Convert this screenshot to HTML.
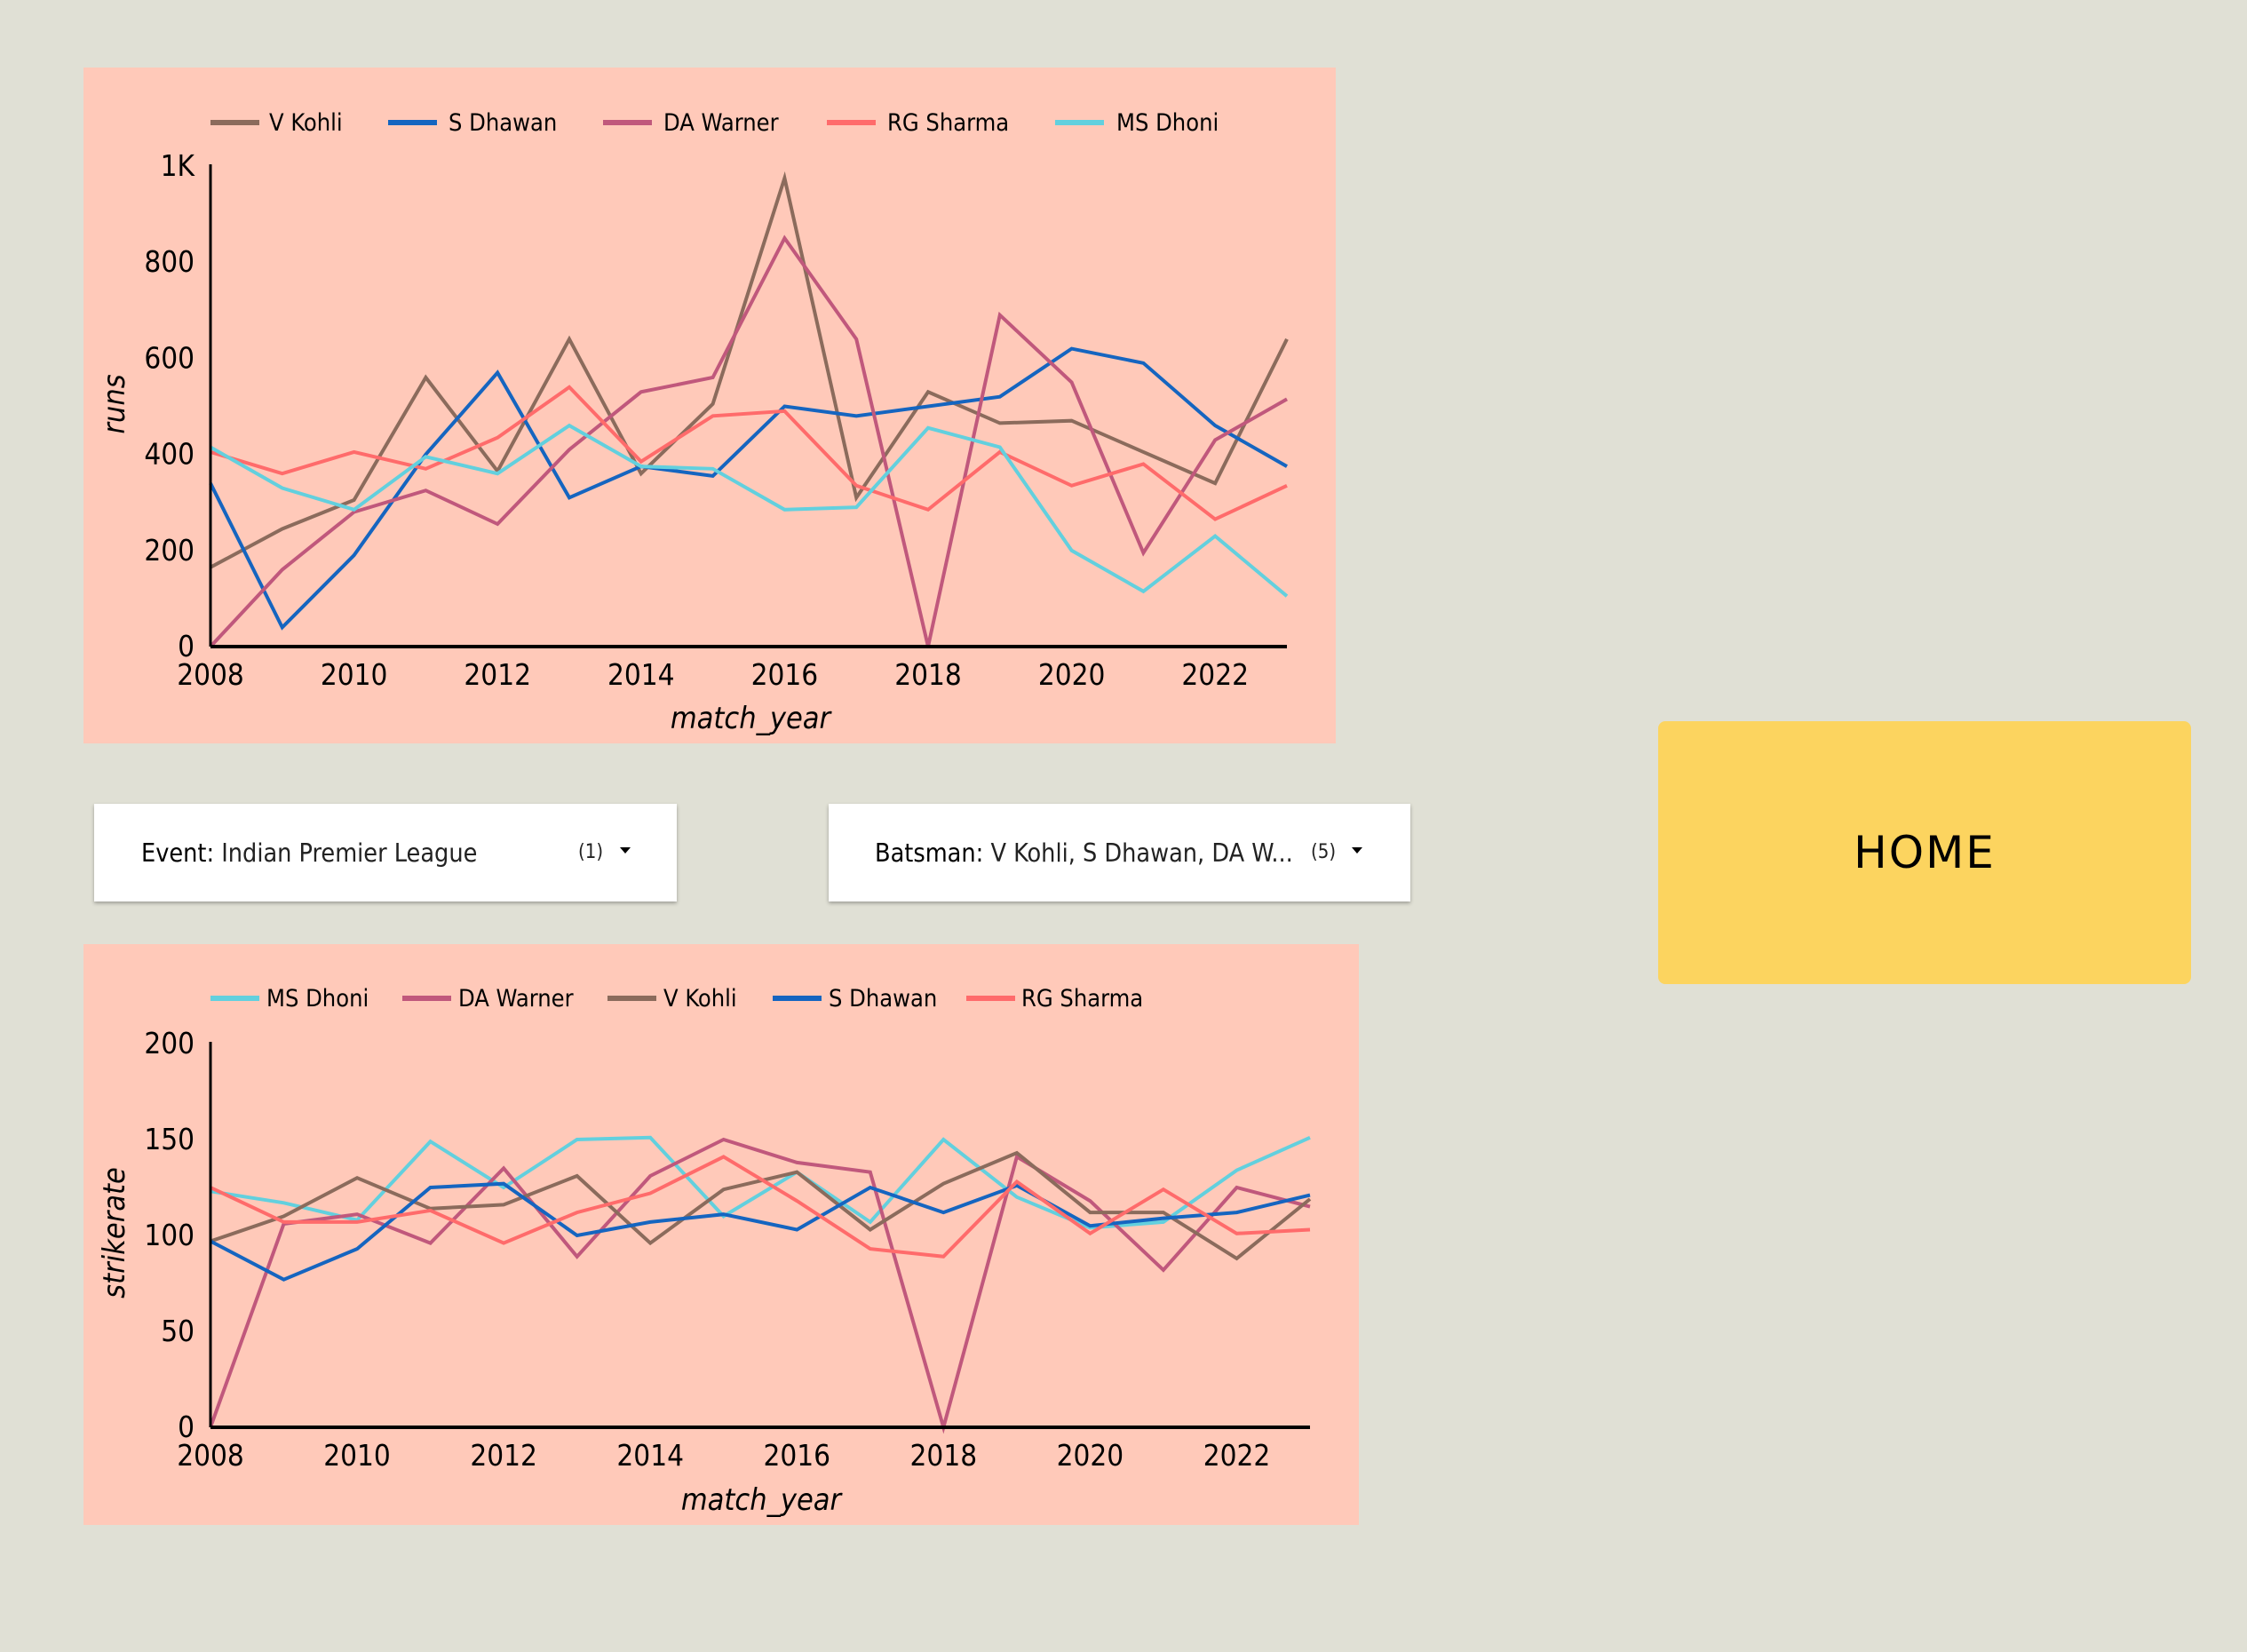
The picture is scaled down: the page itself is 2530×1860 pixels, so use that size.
<!DOCTYPE html>
<html><head><meta charset="utf-8"><style>
html,body{margin:0;padding:0;}
body{width:2530px;height:1860px;background:#e0e0d5;position:relative;overflow:hidden;font-family:"DejaVu Sans Condensed","Liberation Sans Narrow","Liberation Sans",sans-serif;}
.panel{position:absolute;background:#ffc9b9;}
.dd{position:absolute;background:#fff;box-shadow:0 2px 4px rgba(0,0,0,0.3);font-size:28.5px;color:#222;}
.dd .lbl{position:absolute;left:53px;top:39px;}
.dd .lbl b{font-weight:normal;color:#000;}
.dd .cnt{position:absolute;top:42px;font-size:22px;}
.dd .arr{position:absolute;top:49px;width:0;height:0;border-left:6px solid transparent;border-right:6px solid transparent;border-top:7px solid #000;}
#home{position:absolute;left:1867px;top:812px;width:600px;height:296px;background:#fcd45f;border-radius:8px;font-family:"DejaVu Sans","Liberation Sans",sans-serif;font-size:50px;text-align:center;line-height:296px;color:#000;letter-spacing:2px;}
svg{position:absolute;left:0;top:0;}
text{font-family:"DejaVu Sans Condensed","Liberation Sans Narrow","Liberation Sans",sans-serif;fill:#000;}
</style></head><body>
<div class="panel" style="left:94px;top:76px;width:1410px;height:761px;"></div>
<div class="panel" style="left:94px;top:1063px;width:1436px;height:654px;"></div>
<div class="dd" style="left:106px;top:905px;width:656px;height:110px;">
<span class="lbl"><b>Event:</b> Indian Premier League</span>
<span class="cnt" style="left:545px;">(1)</span>
<span class="arr" style="left:592px;"></span></div>
<div class="dd" style="left:933px;top:905px;width:655px;height:110px;">
<span class="lbl" style="left:52px;"><b>Batsman:</b> V Kohli, S Dhawan, DA W...</span>
<span class="cnt" style="left:543px;">(5)</span>
<span class="arr" style="left:589px;"></span></div>
<div id="home">HOME</div>
<svg id="svg" width="2530" height="1860" xmlns="http://www.w3.org/2000/svg"></svg>
<script>
const years=[2008,2009,2010,2011,2012,2013,2014,2015,2016,2017,2018,2019,2020,2021,2022,2023];
const xTicks=[2008,2010,2012,2014,2016,2018,2020,2022];
// runs chart
const runsKohli=[165,245,305,560,365,640,360,505,975,310,530,465,470,405,340,640];
const runsDhawan=[340,40,190,400,570,310,375,355,500,480,500,520,620,590,460,375];
const runsWarner=[0,160,280,325,255,410,530,560,850,640,0,690,550,195,430,515];
const runsSharma=[405,360,405,370,435,540,385,480,490,335,285,405,335,380,265,335];
const runsDhoni=[415,330,285,395,360,460,375,370,285,290,455,415,200,115,230,105];
const runsTicks=[0,200,400,600,800,1000];
const runsTickLabels=["0","200","400","600","800","1K"];
// strike rate chart
const srDhoni=[123,117,108,149,125,150,151,110,133,107,150,120,104,107,134,151];
const srWarner=[0,106,111,96,135,89,131,150,138,133,0,141,118,82,125,115];
const srKohli=[97,110,130,114,116,131,96,124,133,103,127,143,112,112,88,119];
const srDhawan=[97,77,93,125,127,100,107,111,103,125,112,126,105,109,112,121];
const srSharma=[125,107,107,113,96,112,122,141,118,93,89,128,101,124,101,103];
const srTicks=[0,50,100,150,200];

const C={kohli:"#8b6b5c",dhawan:"#1565c0",warner:"#c0587c",sharma:"#ff6b6b",dhoni:"#62d0de"};
const NS="http://www.w3.org/2000/svg";
const svg=document.getElementById('svg');
function mk(tag,attrs,parent){const e=document.createElementNS(NS,tag);for(const k in attrs)e.setAttribute(k,attrs[k]);(parent||svg).appendChild(e);return e;}

function chart(cfg){
  const g=mk('g',{});
  
  
  const xs=v=>cfg.x0+(v-2008)/(2023-2008)*(cfg.x1-cfg.x0);
  const ys=v=>cfg.y0-(v-0)/(cfg.ymax)*(cfg.y0-cfg.y1);
  cfg.yticks.forEach((t,i)=>{
    const tx=mk('text',{x:cfg.x0-18,y:ys(t)+11,'font-size':33,'text-anchor':'end'},g);
    tx.textContent=cfg.ylabels?cfg.ylabels[i]:String(t);
    
    
  });
  xTicks.forEach(t=>{
    const tx=mk('text',{x:xs(t),y:cfg.y0+43,'font-size':33,'text-anchor':'middle'},g);
    tx.textContent=String(t);
    
    
  });
  cfg.series.forEach(s=>{
    const pts=years.map((y,i)=>xs(y).toFixed(1)+','+ys(s.data[i]).toFixed(1)).join(' ');
    const p=mk('polyline',{points:pts,fill:'none',stroke:s.color,'stroke-width':4,'stroke-linejoin':'miter'},g);
    
    
  });
  const ya=mk('line',{x1:cfg.x0,y1:cfg.y1-2,x2:cfg.x0,y2:cfg.y0,stroke:'#000','stroke-width':3},g);
  
  
  const xa=mk('line',{x1:cfg.x0,y1:cfg.y0,x2:cfg.x1,y2:cfg.y0,stroke:'#000','stroke-width':4},g);
  
  
  const xt=mk('text',{x:cfg.xtX,y:cfg.xtY,'font-size':34,'font-style':'italic','text-anchor':'middle'},g);
  xt.textContent='match_year';
  
  
  const yt=mk('text',{x:0,y:0,'font-size':34,'font-style':'italic','text-anchor':'middle',transform:`translate(${cfg.ytX},${cfg.ytY}) rotate(-90)`},g);
  yt.textContent=cfg.ytitle;
  
  
  cfg.series.forEach(s=>{
    const lg=mk('g',{},g);
    
    
    mk('line',{x1:s.lx,y1:cfg.ly,x2:s.lx+55,y2:cfg.ly,stroke:s.color,'stroke-width':6},lg);
    const t=mk('text',{x:s.tx,y:cfg.ly+9,'font-size':27},lg);
    t.textContent=s.label;
  });
}

chart({name:'runs-chart',x0:237,x1:1449,y0:728,y1:187,ymax:1000,yticks:runsTicks,ylabels:runsTickLabels,
  xtX:845,xtY:820,ytX:140,ytY:455,ytitle:'runs',ly:138,
  series:[
    {key:'v-kohli',label:'V Kohli',data:runsKohli,color:C.kohli,lx:237,tx:303},
    {key:'s-dhawan',label:'S Dhawan',data:runsDhawan,color:C.dhawan,lx:437,tx:505},
    {key:'da-warner',label:'DA Warner',data:runsWarner,color:C.warner,lx:679,tx:747},
    {key:'rg-sharma',label:'RG Sharma',data:runsSharma,color:C.sharma,lx:931,tx:999},
    {key:'ms-dhoni',label:'MS Dhoni',data:runsDhoni,color:C.dhoni,lx:1188,tx:1257}
  ]});
chart({name:'strikerate-chart',x0:237,x1:1475,y0:1607,y1:1175,ymax:200,yticks:srTicks,
  xtX:857,xtY:1700,ytX:140,ytY:1388,ytitle:'strikerate',ly:1124,
  series:[
    {key:'ms-dhoni',label:'MS Dhoni',data:srDhoni,color:C.dhoni,lx:237,tx:300},
    {key:'da-warner',label:'DA Warner',data:srWarner,color:C.warner,lx:453,tx:516},
    {key:'v-kohli',label:'V Kohli',data:srKohli,color:C.kohli,lx:684,tx:747},
    {key:'s-dhawan',label:'S Dhawan',data:srDhawan,color:C.dhawan,lx:870,tx:933},
    {key:'rg-sharma',label:'RG Sharma',data:srSharma,color:C.sharma,lx:1088,tx:1150}
  ]});
</script>
</body></html>
